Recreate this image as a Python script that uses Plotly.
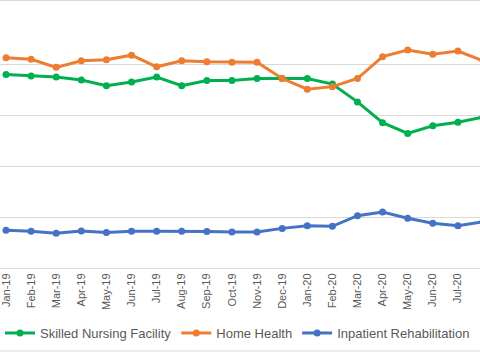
import plotly.graph_objects as go

months = ["Jan-19", "Feb-19", "Mar-19", "Apr-19", "May-19", "Jun-19", "Jul-19", "Aug-19",
          "Sep-19", "Oct-19", "Nov-19", "Dec-19", "Jan-20", "Feb-20", "Mar-20", "Apr-20",
          "May-20", "Jun-20", "Jul-20", "Aug-20"]

snf = [38.1, 37.8, 37.6, 37.0, 35.9, 36.6, 37.6, 35.9, 36.9, 36.9, 37.3, 37.3, 37.3, 36.2,
       32.7, 28.6, 26.5, 28.0, 28.7, 29.7]
home_health = [41.4, 41.1, 39.5, 40.8, 41.0, 41.9, 39.6, 40.8, 40.6, 40.5, 40.5, 37.3, 35.2,
               35.7, 37.3, 41.6, 42.9, 42.1, 42.7, 40.8]
irf = [7.45, 7.25, 6.86, 7.3, 7.0, 7.25, 7.25, 7.25, 7.2, 7.1, 7.1, 7.8, 8.3, 8.2, 10.3, 11.0,
       9.8, 8.8, 8.3, 9.1]

series = [
    ("Skilled Nursing Facility", snf, "#00B050"),
    ("Home Health", home_health, "#ED7D31"),
    ("Inpatient Rehabilitation", irf, "#4472C4"),
]

idx = list(range(len(months)))
fig = go.Figure()
for name, vals, color in series:
    fig.add_trace(go.Scatter(
        x=idx, y=vals, name=name, mode="lines+markers",
        line=dict(color=color, width=3),
        marker=dict(color=color, size=7),
        cliponaxis=True,
    ))

FONT = "Liberation Sans, Arial, sans-serif"
fig.update_layout(
    width=480, height=353,
    margin=dict(l=0, r=0, t=14, b=85),
    paper_bgcolor="white", plot_bgcolor="white",
    font=dict(family=FONT, color="#595959"),
    showlegend=True,
    legend=dict(orientation="h", x=0.0, xanchor="left", y=-0.256, yanchor="middle",
                font=dict(size=13, color="#595959", family=FONT),
                itemwidth=30, tracegroupgap=0, bgcolor="rgba(0,0,0,0)"),
    xaxis=dict(
        range=[-0.239, 18.88], tickmode="array", tickvals=idx, ticktext=months,
        tickangle=-90, showgrid=False, zeroline=False,
        showline=True, linecolor="#D9D9D9", linewidth=1,
        tickfont=dict(size=11, color="#595959", family=FONT),
        ticks="", ticklabeloverflow="allow", fixedrange=True,
    ),
    yaxis=dict(
        range=[0, 50], dtick=10, showticklabels=False, showgrid=True,
        gridcolor="#D9D9D9", gridwidth=1, zeroline=False, showline=False,
        fixedrange=True,
    ),
    shapes=[
        dict(type="line", xref="paper", yref="paper", x0=0, x1=1,
             y0=1 + 13.5 / 254, y1=1 + 13.5 / 254, line=dict(color="#D9D9D9", width=1)),
        dict(type="line", xref="paper", yref="paper", x0=0, x1=1,
             y0=-83.0 / 254, y1=-83.0 / 254, line=dict(color="#D9D9D9", width=1)),
    ],
)

fig.write_html("out.html")
